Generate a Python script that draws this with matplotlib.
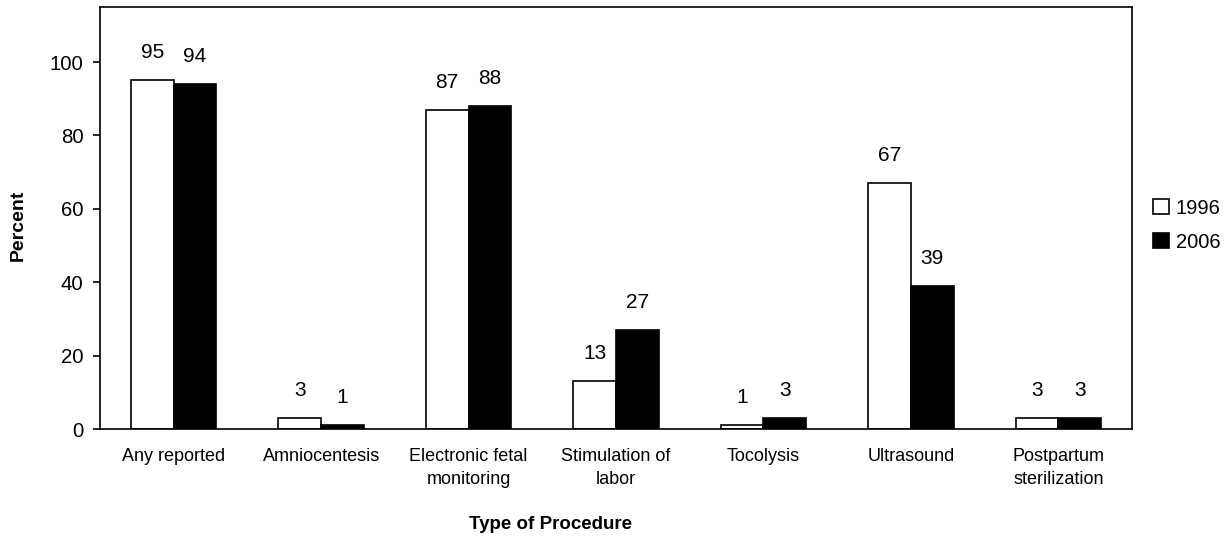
import numpy as np
import matplotlib.pyplot as plt
from matplotlib.patches import Patch

plt.rcParams['font.family'] = ['Liberation Sans', 'DejaVu Sans']

categories = [
    "Any reported",
    "Amniocentesis",
    "Electronic fetal\nmonitoring",
    "Stimulation of\nlabor",
    "Tocolysis",
    "Ultrasound",
    "Postpartum\nsterilization",
]
pct_1996 = [95, 3, 87, 13, 1, 67, 3]
pct_2006 = [94, 1, 88, 27, 3, 39, 3]
years = ["1996", "2006"]

fig = plt.figure(figsize=(12.28, 5.41), dpi=100)
ax = fig.add_axes([0.0814, 0.207, 0.8404, 0.78])

x = np.arange(len(categories))
w = 0.29
b1 = ax.bar(x - w / 2, pct_1996, w, color='white', edgecolor='black', linewidth=1.2)
b2 = ax.bar(x + w / 2, pct_2006, w, color='black', edgecolor='black', linewidth=1.2)

for bars, vals in ((b1, pct_1996), (b2, pct_2006)):
    for r, v in zip(bars, vals):
        ax.annotate("%d" % v, xy=(r.get_x() + r.get_width() / 2, v), xytext=(0, 13),
                    textcoords="offset points", ha='center', va='bottom', fontsize=15)

ax.set_xlim(-0.5, len(categories) - 0.5)
ax.set_ylim(0, 115)
ax.set_yticks([0, 20, 40, 60, 80, 100])
ax.set_xticks(x)
ax.set_xticklabels(categories, fontsize=13, linespacing=1.45)
ax.tick_params(axis='x', length=0, pad=14)
ax.tick_params(axis='y', length=5, width=1.2, labelsize=14.7, pad=7)
for s in ax.spines.values():
    s.set_linewidth(1.2)

fig.text(0.015, 0.584, "Percent", rotation=90, ha='center', va='center',
         fontsize=14, fontweight='bold')
fig.text(0.448, 0.03, "Type of Procedure", ha='center', va='center',
         fontsize=13.5, fontweight='bold')

handles = [Patch(facecolor='white', edgecolor='black', linewidth=1.2),
           Patch(facecolor='black', edgecolor='black', linewidth=1.2)]
fig.legend(handles, years, loc='center left', bbox_to_anchor=(0.932, 0.584),
           frameon=False, fontsize=14.5, handlelength=0.8, handleheight=0.8,
           handletextpad=0.35, labelspacing=0.75, borderaxespad=0)

plt.savefig("out.png", dpi=100)
